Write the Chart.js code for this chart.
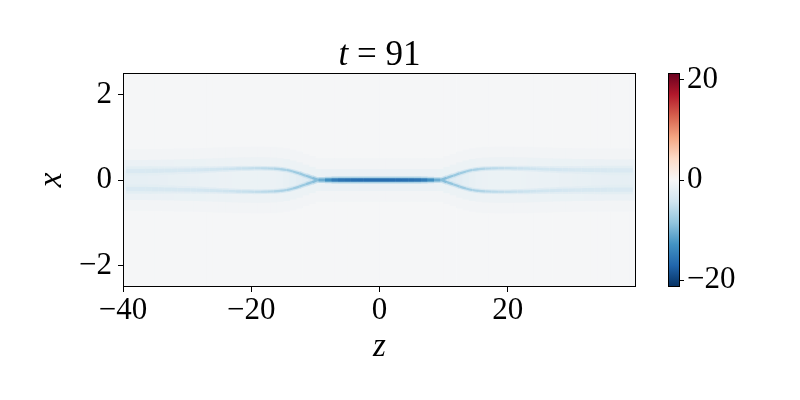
<!DOCTYPE html>
<html><head><meta charset="utf-8">
<script src="https://cdn.jsdelivr.net/npm/chart.js@4"></script>
<style>
html,body{margin:0;padding:0;background:#fff;}
#wrap{position:relative;width:800px;height:400px;}
canvas{position:absolute;left:0;top:0;}
</style>
</head><body>
<div id="wrap"><canvas id="main" width="800" height="400"></canvas><canvas id="cbar" width="800" height="400"></canvas></div>
<script>
// ---------------- data ----------------
const titleVar = 't';
const titleRest = ' = 91';
const zLabel = 'z';
const xLabel = 'x';
const zTicks = [-40, -20, 0, 20];
const xTicks = [-2, 0, 2];
const cbTicks = [-20, 0, 20];
const zRange = [-40, 40];
const xRange = [-2.5, 2.5];
const colorRange = [-21.4, 21.4];

// column centres along z
const zCenters = [-39.5,-38.5,-37.5,-36.5,-35.5,-34.5,-33.5,-32.5,-31.5,-30.5,
  -29.5,-28.5,-27.5,-26.5,-25.5,-24.5,-23.5,-22.5,-21.5,-20.5,
  -19.5,-18.5,-17.5,-16.5,-15.5,-14.5,-13.5,-12.5,-11.5,-10.5,
  -9.5,-8.5,-7.5,-6.5,-5.5,-4.5,-3.5,-2.5,-1.5,-0.5,
  0.5,1.5,2.5,3.5,4.5,5.5,6.5,7.5,8.5,9.5,
  10.5,11.5,12.5,13.5,14.5,15.5,16.5,17.5,18.5,19.5,
  20.5,21.5,22.5,23.5,24.5,25.5,26.5,27.5,28.5,29.5,
  30.5,31.5,32.5,33.5,34.5,35.5,36.5,37.5,38.5,39.5];

// |x| position of the two ridges in each column
const ridgeOffset = [0.21,0.21,0.21,0.21,0.215,0.215,0.22,0.22,0.225,0.23,
  0.23,0.235,0.24,0.245,0.25,0.255,0.26,0.265,0.27,0.27,
  0.275,0.275,0.27,0.265,0.255,0.235,0.20,0.155,0.10,0.05,
  0,0,0,0,0,0,0,0,0,0,
  0,0,0,0,0,0,0,0,0,0,
  0.05,0.10,0.155,0.20,0.235,0.255,0.265,0.27,0.275,0.275,
  0.275,0.27,0.27,0.265,0.26,0.255,0.25,0.245,0.24,0.24,
  0.235,0.235,0.23,0.23,0.23,0.225,0.225,0.225,0.225,0.225];

// ridge half-thickness in x
const ridgeHalfWidth = [0.05,0.05,0.05,0.05,0.05,0.048,0.046,0.044,0.042,0.04,
  0.04,0.038,0.036,0.034,0.032,0.03,0.03,0.028,0.028,0.026,
  0.026,0.025,0.025,0.025,0.025,0.025,0.025,0.025,0.026,0.028,
  0.03,0.032,0.034,0.035,0.035,0.035,0.035,0.035,0.035,0.035,
  0.035,0.035,0.035,0.035,0.035,0.035,0.035,0.034,0.032,0.03,
  0.028,0.026,0.025,0.025,0.025,0.025,0.025,0.025,0.025,0.026,
  0.026,0.028,0.028,0.03,0.03,0.032,0.034,0.036,0.038,0.04,
  0.04,0.042,0.044,0.046,0.048,0.05,0.05,0.05,0.05,0.05];

// field value on the ridges
const ridgeValue = [-3.3,-3.3,-3.3,-3.4,-3.4,-3.5,-3.5,-3.6,-3.6,-3.7,
  -3.8,-3.9,-4.0,-4.1,-4.2,-4.3,-4.5,-4.7,-4.9,-5.1,
  -5.3,-5.6,-5.9,-6.3,-6.8,-7.2,-7.6,-7.9,-8.2,-8.8,
  -9.5,-12.0,-14.5,-15.5,-16.0,-16.2,-16.3,-16.4,-16.5,-16.5,
  -16.5,-16.5,-16.4,-16.3,-16.2,-16.0,-15.5,-14.5,-12.0,-9.5,
  -8.8,-8.2,-7.9,-7.6,-7.2,-6.8,-6.3,-5.9,-5.6,-5.3,
  -5.1,-4.9,-4.7,-4.5,-4.3,-4.2,-4.1,-4.0,-3.9,-3.8,
  -3.7,-3.6,-3.6,-3.5,-3.5,-3.4,-3.4,-3.3,-3.3,-3.3];

// field value just beside the ridges
const glowValue = [-2.2,-2.2,-2.2,-2.2,-2.2,-2.2,-2.2,-2.3,-2.3,-2.3,
  -2.4,-2.4,-2.5,-2.5,-2.6,-2.6,-2.7,-2.8,-2.9,-3.0,
  -3.1,-3.2,-3.3,-3.5,-3.7,-3.9,-4.1,-4.3,-4.5,-5.0,
  -5.5,-6.0,-6.5,-7.0,-7.0,-7.0,-7.0,-7.0,-7.0,-7.0,
  -7.0,-7.0,-7.0,-7.0,-7.0,-7.0,-6.5,-6.0,-5.5,-5.0,
  -4.5,-4.3,-4.1,-3.9,-3.7,-3.5,-3.3,-3.2,-3.1,-3.0,
  -2.9,-2.8,-2.7,-2.6,-2.6,-2.5,-2.5,-2.4,-2.4,-2.3,
  -2.3,-2.3,-2.2,-2.2,-2.2,-2.2,-2.2,-2.2,-2.2,-2.2];

// field value between the two ridges
const innerValue = [-1.9,-1.9,-1.9,-1.9,-1.8,-1.8,-1.8,-1.7,-1.7,-1.7,
  -1.6,-1.6,-1.5,-1.5,-1.5,-1.4,-1.4,-1.3,-1.3,-1.3,
  -1.3,-1.3,-1.3,-1.4,-1.5,-1.7,-2.0,-2.3,-2.6,-3.0,
  -1.5,-1.5,-1.5,-1.5,-1.5,-1.5,-1.5,-1.5,-1.5,-1.5,
  -1.5,-1.5,-1.5,-1.5,-1.5,-1.5,-1.5,-1.5,-1.5,-1.5,
  -3.0,-2.6,-2.3,-2.0,-1.7,-1.5,-1.4,-1.3,-1.3,-1.3,
  -1.3,-1.3,-1.3,-1.4,-1.4,-1.5,-1.5,-1.5,-1.6,-1.6,
  -1.7,-1.7,-1.7,-1.8,-1.8,-1.8,-1.9,-1.9,-1.9,-1.9];

// faint halo around the ridges
const haloValue = [-1.4,-1.4,-1.4,-1.4,-1.4,-1.4,-1.4,-1.4,-1.3,-1.3,
  -1.3,-1.3,-1.3,-1.2,-1.2,-1.2,-1.2,-1.1,-1.1,-1.1,
  -1.1,-1.1,-1.1,-1.1,-1.1,-1.2,-1.2,-1.2,-1.2,-1.3,
  -1.3,-1.4,-1.4,-1.4,-1.4,-1.4,-1.4,-1.4,-1.4,-1.4,
  -1.4,-1.4,-1.4,-1.4,-1.4,-1.4,-1.4,-1.4,-1.4,-1.3,
  -1.3,-1.2,-1.2,-1.2,-1.2,-1.1,-1.1,-1.1,-1.1,-1.1,
  -1.1,-1.1,-1.1,-1.2,-1.2,-1.2,-1.2,-1.3,-1.3,-1.3,
  -1.3,-1.3,-1.4,-1.4,-1.4,-1.4,-1.4,-1.4,-1.4,-1.4];

const outerHaloValue = -0.6;
const backgroundValue = -0.25;

// ---------------- colour map (RdBu_r) ----------------
const RDBU_R = ['#053061','#2166ac','#4393c3','#92c5de','#d1e5f0','#f7f7f7','#fddbc7','#f4a582','#d6604d','#b2182b','#67001f'];
const rgbStops = RDBU_R.map(h => [parseInt(h.slice(1,3),16), parseInt(h.slice(3,5),16), parseInt(h.slice(5,7),16)]);
function cmap(v) {
  let t = (v - colorRange[0]) / (colorRange[1] - colorRange[0]);
  t = Math.max(0, Math.min(1, t));
  const p = t * (rgbStops.length - 1);
  const i = Math.min(rgbStops.length - 2, Math.floor(p));
  const f = p - i;
  const a = rgbStops[i], b = rgbStops[i + 1];
  return 'rgb(' + a.map((c, k) => Math.round(c + (b[k] - c) * f)).join(',') + ')';
}

// ---------------- styling helpers ----------------
const FONT = 'Liberation Serif';
const fmt = v => (v < 0 ? '\u2212' + Math.abs(v) : String(v));
const GLOW = 2.2, HALO_IN = 0.25, HALO_OUT = 0.5;

function layer(order, lo, hi, colors) {
  return {
    type: 'bar', order, grouped: false, borderWidth: 0, barPercentage: 1, categoryPercentage: 1,
    data: zCenters.map((z, i) => ({ x: z, y: [lo(i), hi(i)] })),
    backgroundColor: colors
  };
}
function ridgeLine(order, sign, widthFactor, values) {
  const pxPerUnit = c => { const s = c.chart.scales.y; return Math.abs(s.getPixelForValue(1) - s.getPixelForValue(0)); };
  return {
    type: 'line', order, fill: false, pointRadius: 0, pointHoverRadius: 0,
    cubicInterpolationMode: 'monotone', borderCapStyle: 'butt', borderJoinStyle: 'round',
    borderWidth: 3, borderColor: cmap(values[0]),
    data: zCenters.map((z, i) => ({ x: z, y: sign * ridgeOffset[i] })),
    segment: {
      borderColor: c => cmap((values[c.p0DataIndex] + values[c.p1DataIndex]) / 2),
      borderWidth: c => widthFactor * (ridgeHalfWidth[c.p0DataIndex] + ridgeHalfWidth[c.p1DataIndex]) * pxPerUnit(c)
    }
  };
}
const b = i => ridgeOffset[i];
const datasets = [
  layer(9, () => xRange[0], () => xRange[1], cmap(backgroundValue)),
  layer(8, i => -(b(i) + HALO_OUT), i => b(i) + HALO_OUT, cmap(outerHaloValue)),
  layer(7, i => -(b(i) + HALO_IN), i => b(i) + HALO_IN, haloValue.map(cmap)),
  layer(6, i => -b(i), i => b(i), innerValue.map(cmap)),
  ridgeLine(4, 1, GLOW, glowValue),
  ridgeLine(3, -1, GLOW, glowValue),
  ridgeLine(2, 1, 1, ridgeValue),
  ridgeLine(1, -1, 1, ridgeValue)
];

const frame = {
  id: 'frame',
  afterDraw(chart) {
    const { ctx, chartArea: a } = chart;
    ctx.save();
    ctx.strokeStyle = '#000'; ctx.lineWidth = 1;
    ctx.strokeRect(Math.round(a.left) + 0.5, Math.round(a.top) + 0.5, Math.round(a.right - a.left) - 1, Math.round(a.bottom - a.top) - 1);
    ctx.restore();
  }
};

const texts = {
  id: 'texts',
  afterDraw(chart) {
    const { ctx, chartArea: a } = chart;
    const cx = (a.left + a.right) / 2;
    ctx.save();
    ctx.fillStyle = '#000';
    ctx.textBaseline = 'alphabetic';
    ctx.font = 'italic 35px "' + FONT + '"';
    const w1 = ctx.measureText(titleVar).width;
    ctx.font = '35px "' + FONT + '"';
    const w2 = ctx.measureText(titleRest).width;
    const x0 = cx - (w1 + w2) / 2;
    ctx.textAlign = 'left';
    ctx.font = 'italic 35px "' + FONT + '"';
    ctx.fillText(titleVar, x0, 65);
    ctx.font = '35px "' + FONT + '"';
    ctx.fillText(titleRest, x0 + w1, 65);
    ctx.font = 'italic 33px "' + FONT + '"';
    ctx.textAlign = 'center';
    ctx.fillText(zLabel, cx, 356);
    ctx.save();
    ctx.translate(61, (a.top + a.bottom) / 2);
    ctx.rotate(-Math.PI / 2);
    ctx.fillText(xLabel, 0, 0);
    ctx.restore();
    ctx.restore();
  }
};

const tickFont = { family: FONT, size: 31, lineHeight: 1 };

new Chart(document.getElementById('main'), {
  type: 'bar',
  data: { datasets },
  options: {
    responsive: false, animation: false, events: [],
    layout: { padding: { left: 0, right: 164, top: 73, bottom: 0 } },
    plugins: { legend: { display: false }, tooltip: { enabled: false }, title: { display: false } },
    scales: {
      x: {
        type: 'linear', min: zRange[0], max: zRange[1], offset: false,
        afterBuildTicks: s => { s.ticks = zTicks.map(v => ({ value: v })); },
        afterFit: s => { s.height = 113; },
        grid: { drawOnChartArea: false, drawTicks: true, tickLength: 5, tickColor: '#000', tickWidth: 1, offset: false },
        border: { display: false },
        ticks: { font: tickFont, color: '#000', padding: 3, maxRotation: 0, autoSkip: false, callback: fmt }
      },
      y: {
        type: 'linear', min: xRange[0], max: xRange[1],
        afterBuildTicks: s => { s.ticks = xTicks.map(v => ({ value: v })); },
        afterFit: s => { s.width = 123; },
        grid: { drawOnChartArea: false, drawTicks: true, tickLength: 5, tickColor: '#000', tickWidth: 1 },
        border: { display: false },
        ticks: { font: tickFont, color: '#000', padding: 6, autoSkip: false, callback: fmt }
      }
    }
  },
  plugins: [frame, texts]
});

// ---------------- colour bar ----------------
new Chart(document.getElementById('cbar'), {
  type: 'bar',
  data: {
    labels: ['cb'],
    datasets: [{
      data: [colorRange],
      borderWidth: 0, barPercentage: 1, categoryPercentage: 1,
      backgroundColor: (c) => {
        const a = c.chart.chartArea;
        if (!a) return '#f7f7f7';
        const g = c.chart.ctx.createLinearGradient(0, a.bottom, 0, a.top);
        RDBU_R.forEach((col, k) => g.addColorStop(k / (RDBU_R.length - 1), col));
        return g;
      }
    }]
  },
  options: {
    responsive: false, animation: false, events: [],
    layout: { padding: { left: 668, right: 0, top: 73, bottom: 113 } },
    plugins: { legend: { display: false }, tooltip: { enabled: false } },
    scales: {
      x: { display: false },
      y: {
        position: 'right', min: colorRange[0], max: colorRange[1],
        afterBuildTicks: s => { s.ticks = cbTicks.map(v => ({ value: v })); },
        afterFit: s => { s.width = 120; },
        grid: { drawOnChartArea: false, drawTicks: true, tickLength: 4, tickColor: '#000', tickWidth: 1 },
        border: { display: false },
        ticks: { font: tickFont, color: '#000', padding: 3, autoSkip: false, callback: fmt }
      }
    }
  },
  plugins: [frame]
});
</script>
</body></html>
